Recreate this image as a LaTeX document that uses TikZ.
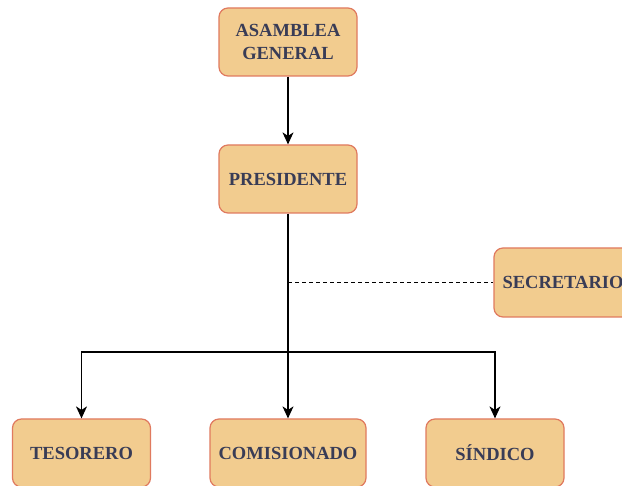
\documentclass[tikz,border=0pt]{standalone}
\usepackage{fontspec}
\setmainfont{Liberation Serif}
\usetikzlibrary{arrows.meta}
\definecolor{boxfill}{HTML}{F2CC8F}
\definecolor{boxline}{HTML}{E07A5F}
\definecolor{boxtext}{HTML}{393C56}
\tikzset{
  orgbox/.style={draw=boxline, fill=boxfill, line width=1.2pt, rounded corners=9pt,
    minimum width=138pt, minimum height=68pt, inner sep=0pt, text=boxtext,
    font=\fontsize{18.5}{22.5}\selectfont\bfseries, align=center},
  link/.style={draw=black, line width=1.3pt, -{Stealth[length=12pt,width=11pt,inset=3.5pt]}},
  dashlink/.style={draw=black, line width=1.1pt, dash pattern=on 4pt off 3pt}
}
\begin{document}
\begin{tikzpicture}[x=1pt,y=-1pt]
\clip (0,0) rectangle (622,486);
\fill[white] (0,0) rectangle (622,486);
\node[orgbox] (asamblea) at (288,42) {ASAMBLEA\\GENERAL};
\node[orgbox] (presidente) at (288,179) {PRESIDENTE};
\node[orgbox, minimum height=69pt] (secretario) at (563,282.5) {SECRETARIO};
\node[orgbox] (tesorero) at (81.5,453) {TESORERO};
\node[orgbox, minimum width=156pt] (comisionado) at (288,453) {COMISIONADO};
\node[orgbox] (sindico) at (495,453) {SÍNDICO};
\coordinate (junction) at (288,352);
\coordinate (dashstart) at (288,282.5);
\draw[link] (asamblea) -- (presidente);
\draw[link] (presidente) -- (comisionado);
\draw[link] (junction) -| (tesorero.north);
\draw[link] (junction) -| (sindico.north);
\draw[dashlink] (dashstart) -- (secretario.west);
\end{tikzpicture}
\end{document}
